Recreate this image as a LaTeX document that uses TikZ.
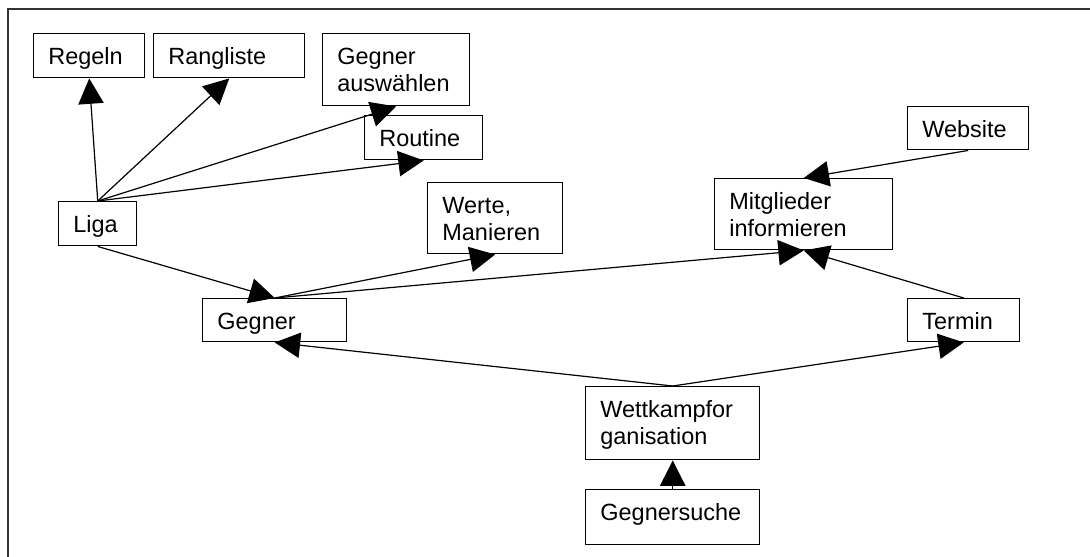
\documentclass[tikz,border=0pt]{standalone}
\usepackage{fontspec}
\setmainfont{Liberation Sans}
\usetikzlibrary{arrows.meta}
\newdimen\pxu \pxu=0.75pt
\newcommand\bxt[3]{\parbox[c][#2\pxu][t]{#1\pxu}{\fontsize{17.6pt}{20.25pt}\selectfont\raggedright\leftskip=11pt\parindent=0pt\rule{0pt}{23.25pt}#3}}
\tikzset{
  box/.style={draw, line width=1.1pt, rectangle, anchor=north west, inner sep=0pt},
  conn/.style={line width=0.9pt, -{Triangle[length=19pt,width=19pt]}},
  frame/.style={line width=0.9pt, draw=black!80}
}
\begin{document}
\begin{tikzpicture}[x=0.75pt,y=-0.75pt]
\useasboundingbox (0,0) rectangle (1090,557);
\draw[frame] (8,557) -- (8,9) -- (1090,9);

\node[box] (regeln)    at (33,33)   {\bxt{111}{44}{Regeln}};
\node[box] (rangliste) at (153,33)  {\bxt{151}{44}{Rangliste}};
\node[box] (gegaus)    at (322,33)  {\bxt{147}{72}{Gegner\\auswählen}};
\node[box] (routine)   at (364,115) {\bxt{118}{44}{Routine}};
\node[box] (liga)      at (58,201)  {\bxt{78}{44}{Liga}};
\node[box] (werte)     at (427,182) {\bxt{135}{71}{Werte,\\Manieren}};
\node[box] (mitgl)     at (714,178) {\bxt{178}{71}{Mitglieder\\informieren}};
\node[box] (website)   at (907,106) {\bxt{121}{43}{Website}};
\node[box] (gegner)    at (202,298) {\bxt{144}{43}{Gegner}};
\node[box] (termin)    at (907,298) {\bxt{112}{43}{Termin}};
\node[box] (wettk)     at (585,386) {\bxt{174}{73}{Wettkampfor\\ganisation}};
\node[box] (gsuche)    at (585,489) {\bxt{174}{55}{Gegnersuche}};

\draw[conn] (liga.north) -- (regeln.south);
\draw[conn] (liga.north) -- (rangliste.south);
\draw[conn] (liga.north) -- (gegaus.south);
\draw[conn] (liga.north) -- (routine.south);
\draw[conn] (liga.south) -- (gegner.north);
\draw[conn] (gegner.north) -- (werte.south);
\draw[conn] (gegner.north) -- (mitgl.south);
\draw[conn] (website.south) -- (mitgl.north);
\draw[conn] (termin.north) -- (mitgl.south);
\draw[conn] (wettk.north) -- (gegner.south);
\draw[conn] (wettk.north) -- (termin.south);
\draw[conn] (gsuche.north) -- (wettk.south);
\end{tikzpicture}
\end{document}
